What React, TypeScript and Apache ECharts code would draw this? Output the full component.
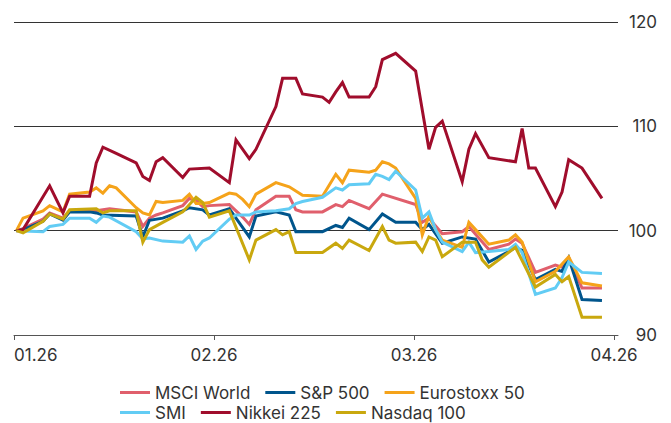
import React, { useEffect, useRef } from "react";
import * as echarts from "echarts";

type Pt = [number, number];

// x = calendar day index (0 = 1 Jan 2026), y = index level (start = 100)
const msciWorld: Pt[] = [[0,100],[1,100.2],[4,101.1],[5,101.7],[7,101.2],[8,101.9],[12,101.9],[13,102.0],[14,102.1],[18,101.8],[19,100.4],[20,101.2],[21,101.5],[22,101.7],[25,102.4],[26,103.1],[27,102.9],[28,102.3],[29,102.4],[32,102.5],[34,101.3],[35,100.6],[36,102.0],[39,103.3],[41,103.3],[42,102.0],[43,101.8],[46,101.8],[48,102.5],[49,102.3],[50,102.9],[53,102.1],[55,103.5],[60,102.5],[61,100.8],[62,101.2],[64,99.7],[67,99.9],[68,100.4],[71,98.2],[74,98.7],[75,99.2],[76,98.8],[78,96.0],[81,96.7],[82,96.5],[83,97.4],[85,94.5],[88,94.5]];
const sp500: Pt[] = [[0,100],[1,100.1],[4,100.9],[5,101.6],[7,101.0],[8,101.8],[11,101.8],[12,101.7],[13,101.5],[18,101.4],[19,99.4],[20,101.0],[22,101.2],[25,101.9],[26,102.2],[28,102.0],[29,101.5],[32,102.1],[33,101.2],[35,99.4],[36,101.4],[39,101.8],[41,101.5],[42,99.9],[46,99.9],[48,100.5],[49,100.3],[50,101.2],[53,100.1],[55,101.6],[57,100.8],[60,100.8],[61,100.1],[62,100.6],[64,98.8],[67,99.4],[69,99.2],[71,97.0],[74,98.0],[75,98.4],[76,98.1],[78,95.3],[81,96.3],[82,96.1],[83,97.4],[85,93.4],[88,93.3]];
const eurostoxx50: Pt[] = [[0,100],[1,101.2],[4,101.9],[5,102.4],[7,101.8],[8,103.5],[11,103.7],[12,104.1],[13,103.6],[14,104.3],[15,104.1],[18,102.2],[19,101.7],[20,101.5],[21,102.8],[22,102.7],[25,102.9],[26,103.5],[27,102.6],[28,102.6],[29,102.7],[32,103.6],[33,103.5],[34,103.0],[35,102.3],[36,103.5],[39,104.6],[41,104.2],[43,103.4],[46,103.3],[48,105.4],[49,104.6],[50,105.8],[53,105.6],[54,105.8],[55,106.6],[56,106.4],[57,106.0],[60,103.1],[61,99.6],[62,101.4],[63,100.1],[64,99.1],[67,98.4],[68,100.8],[69,100.1],[71,98.7],[74,99.1],[75,99.6],[76,98.9],[78,95.1],[81,96.1],[83,97.5],[85,95.0],[88,94.7]];
const smi: Pt[] = [[0,100],[4,99.9],[5,100.4],[7,100.6],[8,101.2],[11,101.2],[12,100.8],[13,101.4],[14,101.3],[18,99.9],[19,99.2],[20,99.3],[22,99.0],[25,98.9],[26,99.5],[27,98.2],[28,99.0],[29,99.3],[32,101.1],[33,101.5],[35,101.5],[36,101.8],[39,101.9],[41,102.1],[42,102.6],[43,102.8],[46,103.2],[48,104.1],[49,103.9],[50,104.4],[53,104.5],[54,105.4],[55,105.2],[56,104.9],[57,105.7],[60,103.9],[61,101.2],[62,101.8],[63,100.1],[64,98.9],[67,98.0],[68,98.9],[69,97.9],[71,98.0],[74,98.2],[75,98.7],[76,97.9],[78,93.9],[81,94.5],[82,95.5],[83,97.0],[85,96.0],[88,95.9]];
const nikkei225: Pt[] = [[0,100],[1,100.1],[5,104.3],[7,101.7],[8,103.3],[11,103.3],[12,106.5],[13,108.0],[15,107.4],[18,106.5],[19,105.2],[20,104.8],[21,106.6],[22,107.0],[25,105.1],[26,105.9],[29,106.0],[32,104.6],[33,108.7],[35,106.9],[36,107.8],[39,111.9],[40,114.6],[42,114.6],[43,113.1],[46,112.8],[47,112.3],[48,113.3],[49,114.2],[50,112.8],[53,112.8],[54,113.8],[55,116.4],[57,117.0],[60,115.3],[62,107.8],[63,109.9],[64,110.5],[67,104.7],[68,107.8],[69,109.3],[71,107.0],[75,106.6],[76,109.8],[77,106.0],[78,106.0],[81,102.3],[82,103.7],[83,106.8],[85,106.0],[88,103.1]];
const nasdaq100: Pt[] = [[0,100],[1,99.8],[4,100.9],[5,101.6],[7,101.1],[8,102.0],[12,102.1],[13,101.7],[14,101.9],[18,101.9],[19,98.9],[20,100.1],[22,100.8],[25,101.8],[27,103.2],[28,102.7],[29,101.3],[32,101.9],[35,97.2],[36,99.1],[39,100.1],[40,99.6],[41,99.9],[42,97.9],[46,97.9],[48,98.8],[49,98.3],[50,99.1],[53,98.1],[55,100.4],[56,99.1],[57,98.8],[60,98.9],[61,98.0],[62,99.4],[63,99.1],[64,97.5],[67,98.9],[69,98.9],[70,97.2],[71,96.5],[75,98.4],[78,94.6],[81,95.8],[82,95.1],[83,95.6],[85,91.7],[88,91.7]];

const seriesNames = ["MSCI World", "S&P 500", "Eurostoxx 50", "SMI", "Nikkei 225", "Nasdaq 100"];
const seriesData = [msciWorld, sp500, eurostoxx50, smi, nikkei225, nasdaq100];
const seriesColors = ["#E05F6C", "#00558C", "#F5A31A", "#62CCF4", "#A00D2C", "#C9A80E"];

const xTickLabels = ["01.26", "02.26", "03.26", "04.26"];
const xTickDays = [-0.36, 29.7, 59.76, 89.82];
const xMin = -0.36;
const xMax = 90.41;
const yMin = 90;
const yMax = 120;
const yInterval = 10;

const FONT = "Inter, 'Noto Sans', sans-serif";

export default function App() {
  const ref = useRef<HTMLDivElement>(null);
  useEffect(() => {
    document.body.style.margin = "0";
    if (!ref.current) return;
    const chart = echarts.init(ref.current, undefined, { renderer: "svg" });
    const legendBase = {
      left: 115,
      itemWidth: 30,
      itemHeight: 3,
      itemGap: 15,
      icon: "rect",
      selectedMode: false,
      textStyle: { fontFamily: FONT, fontSize: 17, color: "#333333" },
    };
    chart.setOption({
      animation: false,
      color: seriesColors,
      grid: { left: 14, right: 53, top: 22, bottom: 88, containLabel: false },
      legend: [
        { ...legendBase, top: 379, data: seriesNames.slice(0, 3) },
        { ...legendBase, top: 399, data: seriesNames.slice(3) },
      ],
      xAxis: {
        type: "value",
        min: xMin,
        max: xMax,
        axisLine: { show: true, lineStyle: { color: "#555555", width: 1 } },
        axisTick: { show: true, length: 5, lineStyle: { color: "#555555" }, customValues: xTickDays },
        axisLabel: {
          customValues: xTickDays,
          margin: 11,
          fontFamily: FONT,
          fontSize: 17,
          color: "#333333",
          alignMinLabel: "left",
          formatter: (v: number) => {
            let best = 0;
            xTickDays.forEach((d, i) => {
              if (Math.abs(d - v) < Math.abs(xTickDays[best] - v)) best = i;
            });
            return xTickLabels[best];
          },
        },
        splitLine: { show: false },
      },
      yAxis: {
        type: "value",
        position: "right",
        min: yMin,
        max: yMax,
        interval: yInterval,
        axisLine: { show: false },
        axisTick: { show: false },
        axisLabel: {
          margin: 39,
          align: "right",
          fontFamily: FONT,
          fontSize: 17,
          color: "#333333",
        },
        splitLine: { show: true, lineStyle: { color: "#333333", width: 1 } },
      },
      series: seriesNames.map((name, i) => ({
        name,
        type: "line",
        data: seriesData[i],
        showSymbol: false,
        symbol: "none",
        lineStyle: { width: 3, color: seriesColors[i], join: "miter" },
        itemStyle: { color: seriesColors[i] },
        emphasis: { disabled: true },
      })),
    });
    return () => chart.dispose();
  }, []);
  return <div ref={ref} style={{ position: "absolute", left: 0, top: 0, width: 671, height: 423 }} />;
}
